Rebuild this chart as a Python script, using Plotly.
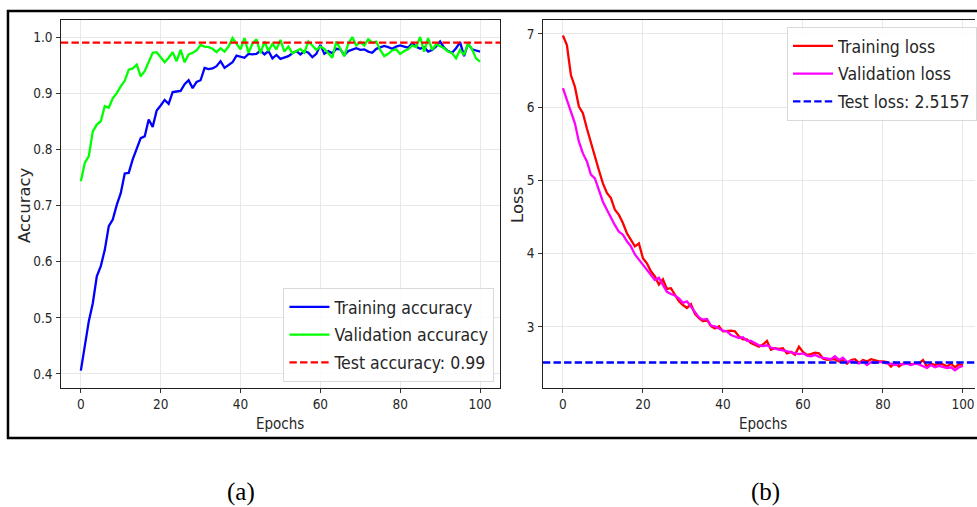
import plotly.graph_objects as go

W, H = 977, 507

epochs = list(range(101))

train_acc = [0.406, 0.452, 0.494, 0.526, 0.574, 0.592, 0.621, 0.663, 0.675, 0.701,
             0.722, 0.757, 0.758, 0.782, 0.802, 0.820, 0.823, 0.853, 0.840, 0.869,
             0.878, 0.888, 0.881, 0.902, 0.903, 0.904, 0.916, 0.923, 0.909, 0.920,
             0.923, 0.945, 0.943, 0.944, 0.948, 0.957, 0.945, 0.950, 0.955, 0.967,
             0.965, 0.963, 0.970, 0.969, 0.970, 0.976, 0.969, 0.975, 0.962, 0.968,
             0.961, 0.964, 0.966, 0.971, 0.975, 0.969, 0.975, 0.972, 0.964, 0.970,
             0.986, 0.970, 0.975, 0.971, 0.979, 0.978, 0.968, 0.975, 0.978, 0.980,
             0.977, 0.978, 0.974, 0.972, 0.979, 0.981, 0.984, 0.982, 0.979, 0.983,
             0.985, 0.983, 0.981, 0.989, 0.983, 0.979, 0.982, 0.974, 0.977, 0.983,
             0.992, 0.981, 0.975, 0.972, 0.980, 0.991, 0.966, 0.988, 0.978, 0.976,
             0.974]

val_acc = [0.743, 0.776, 0.788, 0.832, 0.844, 0.850, 0.877, 0.874, 0.891, 0.900,
           0.912, 0.922, 0.942, 0.944, 0.951, 0.930, 0.939, 0.957, 0.972, 0.973,
           0.963, 0.955, 0.963, 0.973, 0.957, 0.977, 0.955, 0.969, 0.972, 0.976,
           0.986, 0.983, 0.982, 0.979, 0.973, 0.980, 0.974, 0.983, 0.998, 0.989,
           0.978, 0.998, 0.972, 0.988, 0.996, 0.971, 0.992, 0.975, 0.988, 0.978,
           0.995, 0.974, 0.983, 0.971, 0.975, 0.979, 0.972, 0.992, 0.985, 0.977,
           0.983, 0.979, 0.971, 0.963, 0.992, 0.978, 0.966, 0.988, 1.000, 0.985,
           0.991, 0.985, 0.996, 0.990, 0.992, 0.977, 0.966, 0.970, 0.976, 0.978,
           0.970, 0.975, 0.978, 0.985, 0.982, 1.000, 0.974, 0.998, 0.977, 0.987,
           0.983, 0.980, 0.974, 0.971, 0.962, 0.977, 0.968, 0.988, 0.978, 0.962,
           0.956]

train_loss = [6.98, 6.85, 6.44, 6.28, 6.01, 5.92, 5.71, 5.51, 5.33, 5.14,
              4.96, 4.83, 4.76, 4.60, 4.53, 4.42, 4.28, 4.19, 4.10, 4.14,
              3.94, 3.87, 3.76, 3.69, 3.58, 3.65, 3.52, 3.53, 3.44, 3.35,
              3.30, 3.26, 3.31, 3.18, 3.12, 3.08, 3.10, 3.01, 2.98, 3.01,
              2.94, 2.95, 2.95, 2.94, 2.87, 2.83, 2.83, 2.78, 2.76, 2.73,
              2.76, 2.81, 2.69, 2.71, 2.70, 2.71, 2.64, 2.66, 2.62, 2.73,
              2.66, 2.62, 2.63, 2.65, 2.64, 2.57, 2.55, 2.56, 2.56, 2.53,
              2.55, 2.50, 2.55, 2.56, 2.51, 2.55, 2.53, 2.56, 2.54, 2.53,
              2.53, 2.52, 2.46, 2.51, 2.46, 2.50, 2.50, 2.49, 2.50, 2.50,
              2.55, 2.46, 2.50, 2.48, 2.50, 2.49, 2.46, 2.50, 2.45, 2.49,
              2.48]

val_loss = [6.26, 6.10, 5.92, 5.78, 5.53, 5.37, 5.26, 5.08, 5.03, 4.87,
            4.71, 4.60, 4.49, 4.39, 4.30, 4.26, 4.17, 4.10, 3.99, 3.92,
            3.85, 3.77, 3.71, 3.64, 3.67, 3.58, 3.48, 3.45, 3.43, 3.39,
            3.33, 3.35, 3.28, 3.21, 3.13, 3.10, 3.11, 3.02, 3.01, 2.98,
            2.95, 2.94, 2.89, 2.87, 2.85, 2.86, 2.81, 2.81, 2.78, 2.75,
            2.74, 2.75, 2.72, 2.70, 2.69, 2.68, 2.67, 2.65, 2.64, 2.63,
            2.64, 2.61, 2.60, 2.62, 2.59, 2.58, 2.57, 2.56, 2.60, 2.55,
            2.58, 2.52, 2.54, 2.52, 2.50, 2.53, 2.48, 2.52, 2.51, 2.52,
            2.52, 2.50, 2.50, 2.48, 2.50, 2.49, 2.50, 2.48, 2.50, 2.49,
            2.46, 2.44, 2.48, 2.45, 2.47, 2.46, 2.44, 2.45, 2.41, 2.45,
            2.47]

test_acc = 0.99
test_loss = 2.5157

x_range_a = [-5, 105]
x_range_b = [-5, 103]
y_range_a = [0.375, 1.0303]
y_range_b = [2.167, 7.191]

FONT = "DejaVu Sans Condensed, DejaVu Sans, sans-serif"
FONT_N = "DejaVu Sans, sans-serif"
SERIF = "Liberation Serif, Times New Roman, serif"
TXT = "#262626"

def px_x(p):
    return p / W

def px_y(p):
    return (H - p) / H

fig = go.Figure()

# (a) accuracy
fig.add_trace(go.Scatter(x=epochs, y=train_acc, mode="lines", name="Training accuracy",
                         line=dict(color="#0000ff", width=2.3), xaxis="x", yaxis="y",
                         legend="legend", legendgroup="a1"))
fig.add_trace(go.Scatter(x=epochs, y=val_acc, mode="lines", name="Validation accuracy",
                         line=dict(color="#00ff00", width=2.3), xaxis="x", yaxis="y",
                         legend="legend", legendgroup="a2"))
fig.add_trace(go.Scatter(x=x_range_a, y=[test_acc, test_acc], mode="lines",
                         name=f"Test accuracy: {test_acc}",
                         line=dict(color="#ff0000", width=2.4, dash="7.4px,3.2px"),
                         xaxis="x", yaxis="y", legend="legend", legendgroup="a3"))

# (b) loss
fig.add_trace(go.Scatter(x=epochs, y=train_loss, mode="lines", name="Training loss",
                         line=dict(color="#ff0000", width=2.3), xaxis="x2", yaxis="y2",
                         legend="legend2", legendgroup="b1"))
fig.add_trace(go.Scatter(x=epochs, y=val_loss, mode="lines", name="Validation loss",
                         line=dict(color="#ff00ff", width=2.3), xaxis="x2", yaxis="y2",
                         legend="legend2", legendgroup="b2"))
fig.add_trace(go.Scatter(x=x_range_b, y=[test_loss, test_loss], mode="lines",
                         name=f"Test loss: {test_loss}",
                         line=dict(color="#0000ff", width=2.4, dash="7.4px,3.2px"),
                         xaxis="x2", yaxis="y2", legend="legend2", legendgroup="b3"))

axis_common = dict(
    showgrid=True, gridcolor="#e8e8e8", gridwidth=1,
    showline=True, linecolor="#222222", linewidth=1.2,
    ticks="outside", ticklen=3.5, tickwidth=1, tickcolor="#333333",
    tickfont=dict(family=FONT, size=13.5, color=TXT),
    zeroline=False,
)

dom_y = [px_y(388), px_y(20)]

legend_common = dict(xanchor="left", yanchor="top",
                     bgcolor="rgba(255,255,255,0.85)", bordercolor="#d9d9d9", borderwidth=1,
                     font=dict(family=FONT, size=17.5, color=TXT),
                     itemwidth=40, tracegroupgap=2, traceorder="grouped")

fig.update_layout(
    width=W, height=H, autosize=False,
    margin=dict(l=0, r=0, t=0, b=0),
    paper_bgcolor="white", plot_bgcolor="white",
    xaxis=dict(domain=[px_x(61), px_x(501)], range=x_range_a, tick0=0, dtick=20,
               mirror=True, anchor="y", **axis_common),
    yaxis=dict(domain=dom_y, range=y_range_a, tick0=0, dtick=0.1, tickformat=".1f",
               mirror=True, anchor="x", ticklabelstandoff=1, **axis_common),
    xaxis2=dict(domain=[px_x(544), 1.0], range=x_range_b, tick0=0, dtick=20,
                mirror=True, anchor="y2", **axis_common),
    yaxis2=dict(domain=dom_y, range=y_range_b, tick0=0, dtick=1,
                mirror=False, anchor="x2", ticklabelstandoff=1, **axis_common),
    legend=dict(x=px_x(284), y=px_y(288), **legend_common),
    legend2=dict(x=px_x(789), y=px_y(27), **legend_common),
    showlegend=True,
)

def label(text, xp, yp, angle=0, font=FONT, size=15, color=TXT):
    return dict(text=text, x=px_x(xp), y=px_y(yp), xref="paper", yref="paper",
                xanchor="center", yanchor="middle", showarrow=False, textangle=angle,
                font=dict(family=font, size=size, color=color))

annotations = [
    label("Epochs", 281, 424),
    label("Accuracy", 25, 205, angle=-90, font=FONT_N, size=16.5),
    label("Epochs", 765, 424),
    label("Loss", 519, 205, angle=-90, font=FONT_N, size=16.5),
    label("(a)", 241, 492, font=SERIF, size=25, color="black"),
    label("(b)", 767, 492, font=SERIF, size=25, color="black"),
]
fig.update_layout(annotations=annotations)

# outer frame around both panels
fig.add_shape(type="rect", xref="paper", yref="paper",
              x0=px_x(8), x1=1.02, y0=px_y(438), y1=px_y(11),
              line=dict(color="black", width=2.5), fillcolor="rgba(0,0,0,0)", layer="above")

fig.write_html("out.html", config={"displayModeBar": False},
               post_script="document.body.style.margin='0';document.body.style.overflow='hidden';")
